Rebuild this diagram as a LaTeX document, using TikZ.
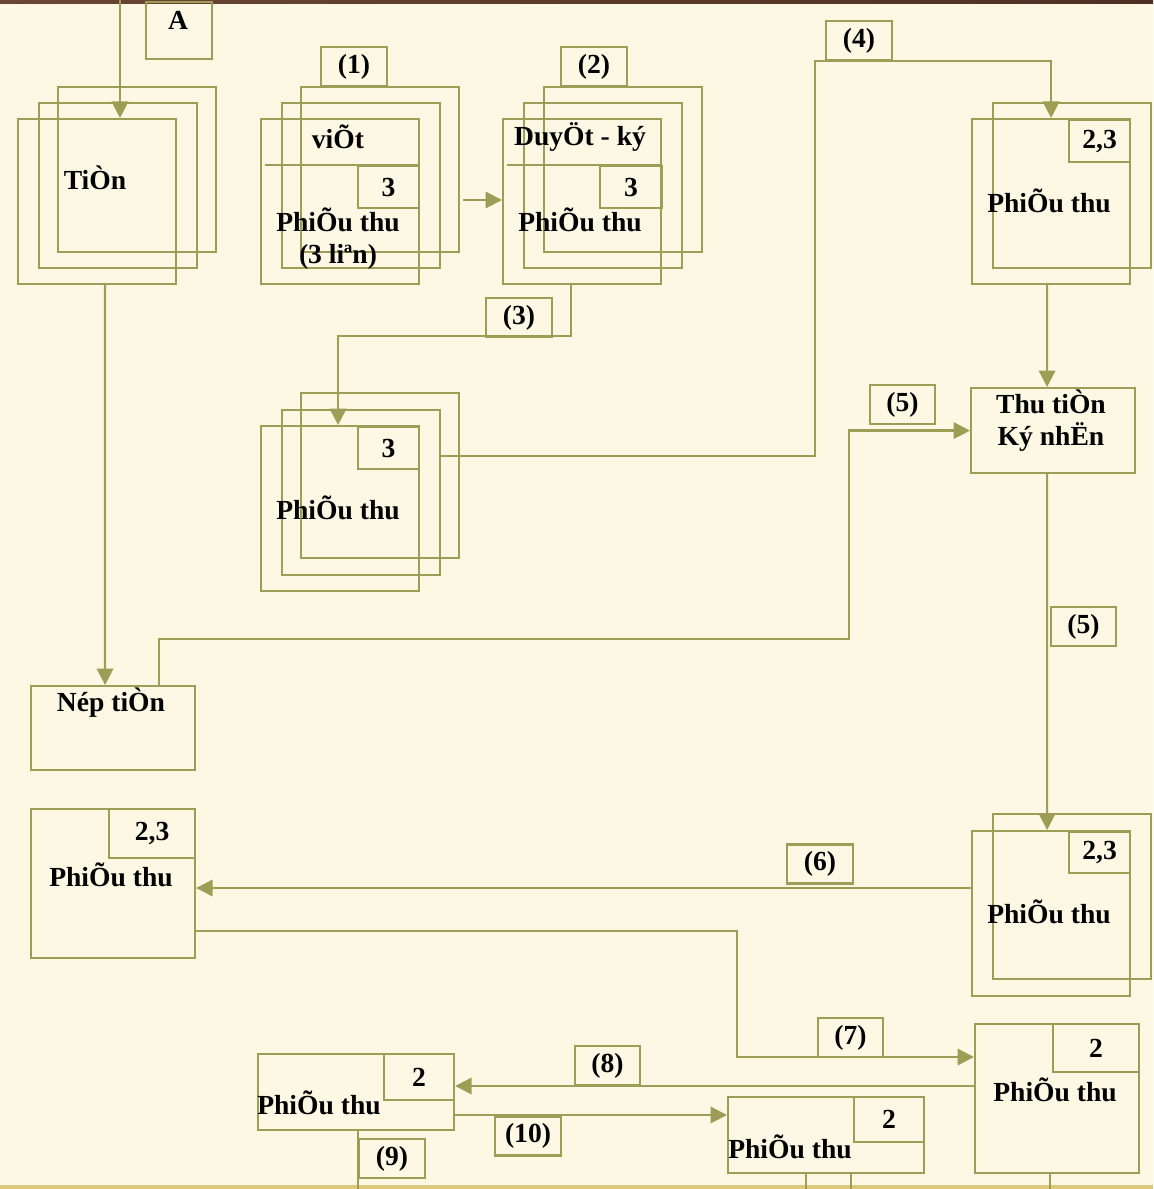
\documentclass[tikz,border=0pt]{standalone}
\usepackage{fontspec}
\setmainfont{Liberation Serif}
\usetikzlibrary{positioning, arrows.meta, calc}
\definecolor{paper}{HTML}{FDF8E4}
\definecolor{olive}{HTML}{9E9D55}
\definecolor{bark}{HTML}{6C4633}
\definecolor{barkdark}{HTML}{4E3022}
\definecolor{straw}{HTML}{DCC97F}

\begin{document}
\begin{tikzpicture}[
  x=0.02cm, y=-0.02cm,
  every node/.style={font=\fontsize{15.7}{18.2}\selectfont\bfseries, text=black},
  card/.style={rectangle, draw=olive, line width=1.25pt, inner sep=0pt, minimum width=3.16cm, minimum height=3.3cm, anchor=north west},
  panel/.style={rectangle, draw=olive, line width=1.25pt, inner sep=0pt, anchor=north west},
  corner/.style={panel},
  tag/.style={rectangle, draw=olive, line width=1.25pt, inner sep=0pt, minimum width=1.32cm, minimum height=0.78cm},
  link/.style={draw=olive, line width=1.25pt},
  arr/.style={link, -{Triangle[length=3.3mm, width=3.3mm]}}
]
  \fill[paper] (0,0) rectangle (1153,1189);
  \useasboundingbox (0,0) rectangle (1153,1189);
  \shade[left color=bark, right color=barkdark] (0,0) rectangle (1153,4);
  \fill[straw] (0,1185) rectangle (1153,1189);

  % A
  \node[panel, minimum width=1.32cm, minimum height=1.14cm] (boxA) at (145,1) {};
  \node (tA) at (178,20) {A};

  % tien
  \node[card] (tien3) at (57,86) {};
  \node[card] (tien2) at (38,102) {};
  \node[card] (tien1) at (17,118) {};
  \node (tTien) at (95,178) {TiÒn};
  \coordinate (topin) at (120,0);
  \draw[arr] (topin) -- (topin |- tien1.north);

  % viet (1)
  \node[tag] (n1) at (354,66.5) {(1)};
  \node[card] (viet3) at (300,86) {};
  \node[card] (viet2) at (281,102) {};
  \node[card] (viet1) at (260,118) {};
  \coordinate (vcut) at (265,165);
  \draw[link] (vcut) -- (vcut -| viet1.east);
  \node[corner, minimum width=1.22cm, minimum height=0.84cm] (viet0) at (357,165) {3};
  \node (tViet) at (338,137) {viÕt};
  \node (tViet2) at (338,220) {PhiÕu thu};
  \node (tViet3) at (338,257) {(3 liªn)};

  % duyet (2)
  \node[tag] (n2) at (594,66.5) {(2)};
  \node[card] (duyet3) at (543,86) {};
  \node[card] (duyet2) at (523,102) {};
  \node[card] (duyet1) at (502,118) {};
  \coordinate (dcut) at (507,165);
  \draw[link] (dcut) -- (dcut -| duyet1.east);
  \node[corner, minimum width=1.24cm, minimum height=0.84cm] (duyet0) at (599,165) {3};
  \node (tDuyet) at (580,137) {DuyÖt - ký};
  \node (tDuyet2) at (580,220) {PhiÕu thu};
  \coordinate (v2d) at (463,200);
  \draw[arr] (v2d) -- (v2d -| duyet1.west);

  % phieu (3)
  \node[tag] (n3) at (519,317.5) {(3)};
  \node[card] (phieu3) at (300,392) {};
  \node[card] (phieu2) at (281,409) {};
  \node[card] (phieu1) at (260,425) {};
  \node[corner, minimum width=1.22cm, minimum height=0.84cm] (phieu0) at (357,426) {3};
  \node (tPhieu) at (338,508) {PhiÕu thu};
  \draw[arr] ($(duyet1.south)+(-11,0)$) -- ++(0,51) -| ($(phieu1.north)+(-2,0)$);

  % (4)
  \node[tag] (n4) at (859,40.5) {(4)};
  \node[card] (tr2) at (992,102) {};
  \node[card] (tr1) at (971,118) {};
  \node[corner, minimum width=1.22cm, minimum height=0.84cm] (tr0) at (1068,119) {2,3};
  \node (tTr) at (1049,201) {PhiÕu thu};
  \draw[arr] ($(phieu2.north east)+(0,47)$) -| (815,61) -| (tr1.north);

  % thu tien
  \node[panel, minimum width=3.28cm, minimum height=1.7cm] (thu) at (970,387) {};
  \node[align=center] (tThu) at (1051,421) {Thu tiÒn\\Ký nhËn};
  \draw[arr] ($(tr1.south)+(-4,0)$) -- ($(thu.north)+(-6,0)$);

  % nop tien (5)
  \node[tag, minimum width=1.3cm] (n5a) at (902.5,404.5) {(5)};
  \node[panel, minimum width=3.28cm, minimum height=1.68cm] (nop) at (30,685) {};
  \node (tNop) at (111,703) {Nép tiÒn};
  \draw[arr] ($(tien1.south)+(8,0)$) -- ($(nop.north)+(-8,0)$);
  \draw[arr] ($(nop.north)+(46,0)$) |- (849,639) |- (thu.west);

  \node[tag, minimum width=1.3cm] (n5b) at (1083.5,626.5) {(5)};
  \node[card] (rs2) at (992,813) {};
  \node[card] (rs1) at (971,830) {};
  \node[corner, minimum width=1.22cm, minimum height=0.82cm] (rs0) at (1068,831) {2,3};
  \node (tRs) at (1049,912) {PhiÕu thu};
  \draw[arr] ($(thu.south)+(-6,0)$) -- ($(rs1.north)+(-4,0)$);

  % (6)
  \node[tag] (n6) at (820,864) {(6)};
  \node[panel, minimum width=3.28cm, minimum height=2.98cm] (lp) at (30,808) {};
  \node[corner, minimum width=1.72cm, minimum height=0.98cm] (lp0) at (108,808) {2,3};
  \node (tLp) at (111,875) {PhiÕu thu};
  \coordinate (k6) at (0,888);
  \draw[arr] (rs1.west |- k6) -- (lp.east |- k6);

  % (7)
  \node[tag, minimum width=1.3cm] (n7) at (850.5,1037.5) {(7)};
  \node[panel, minimum width=3.28cm, minimum height=2.98cm] (br) at (974,1023) {};
  \node[corner, minimum width=1.72cm, minimum height=0.96cm] (br0) at (1052,1023) {2};
  \node (tBr) at (1055,1090) {PhiÕu thu};
  \coordinate (k7) at (737,1057);
  \draw[arr] ($(lp.south east)+(0,-28)$) -| (k7) -- (k7 -| br.west);

  % (8)
  \node[tag, minimum width=1.3cm] (n8) at (607.5,1065.5) {(8)};
  \node[panel, minimum width=3.92cm, minimum height=1.52cm] (bl) at (257,1053) {};
  \node[corner, minimum width=1.4cm, minimum height=0.92cm] (bl0) at (383,1053) {2};
  \node (tBl) at (319,1103) {PhiÕu thu};
  \coordinate (k8) at (0,1086);
  \draw[arr] (br.west |- k8) -- (bl.east |- k8);

  % (10)
  \node[tag] (n10) at (528,1136) {(10)};
  \node[panel, minimum width=3.92cm, minimum height=1.52cm] (bm) at (727,1096) {};
  \node[corner, minimum width=1.4cm, minimum height=0.9cm] (bm0) at (853,1096) {2};
  \node (tBm) at (790,1147) {PhiÕu thu};
  \coordinate (k10) at (0,1115);
  \draw[arr] (bl.east |- k10) -- (bm.west |- k10);

  % (9) and exits
  \node[tag] (n9) at (392,1158.5) {(9)};
  \coordinate (out9) at (358,1189);
  \coordinate (outa) at (806,1189);
  \coordinate (outb) at (851,1189);
  \coordinate (outc) at (1050,1189);
  \draw[link] (out9 |- bl.south) -- (out9);
  \draw[link] (outa |- bm.south) -- (outa);
  \draw[link] (outb |- bm.south) -- (outb);
  \draw[link] (outc |- br.south) -- (outc);
\end{tikzpicture}
\end{document}
